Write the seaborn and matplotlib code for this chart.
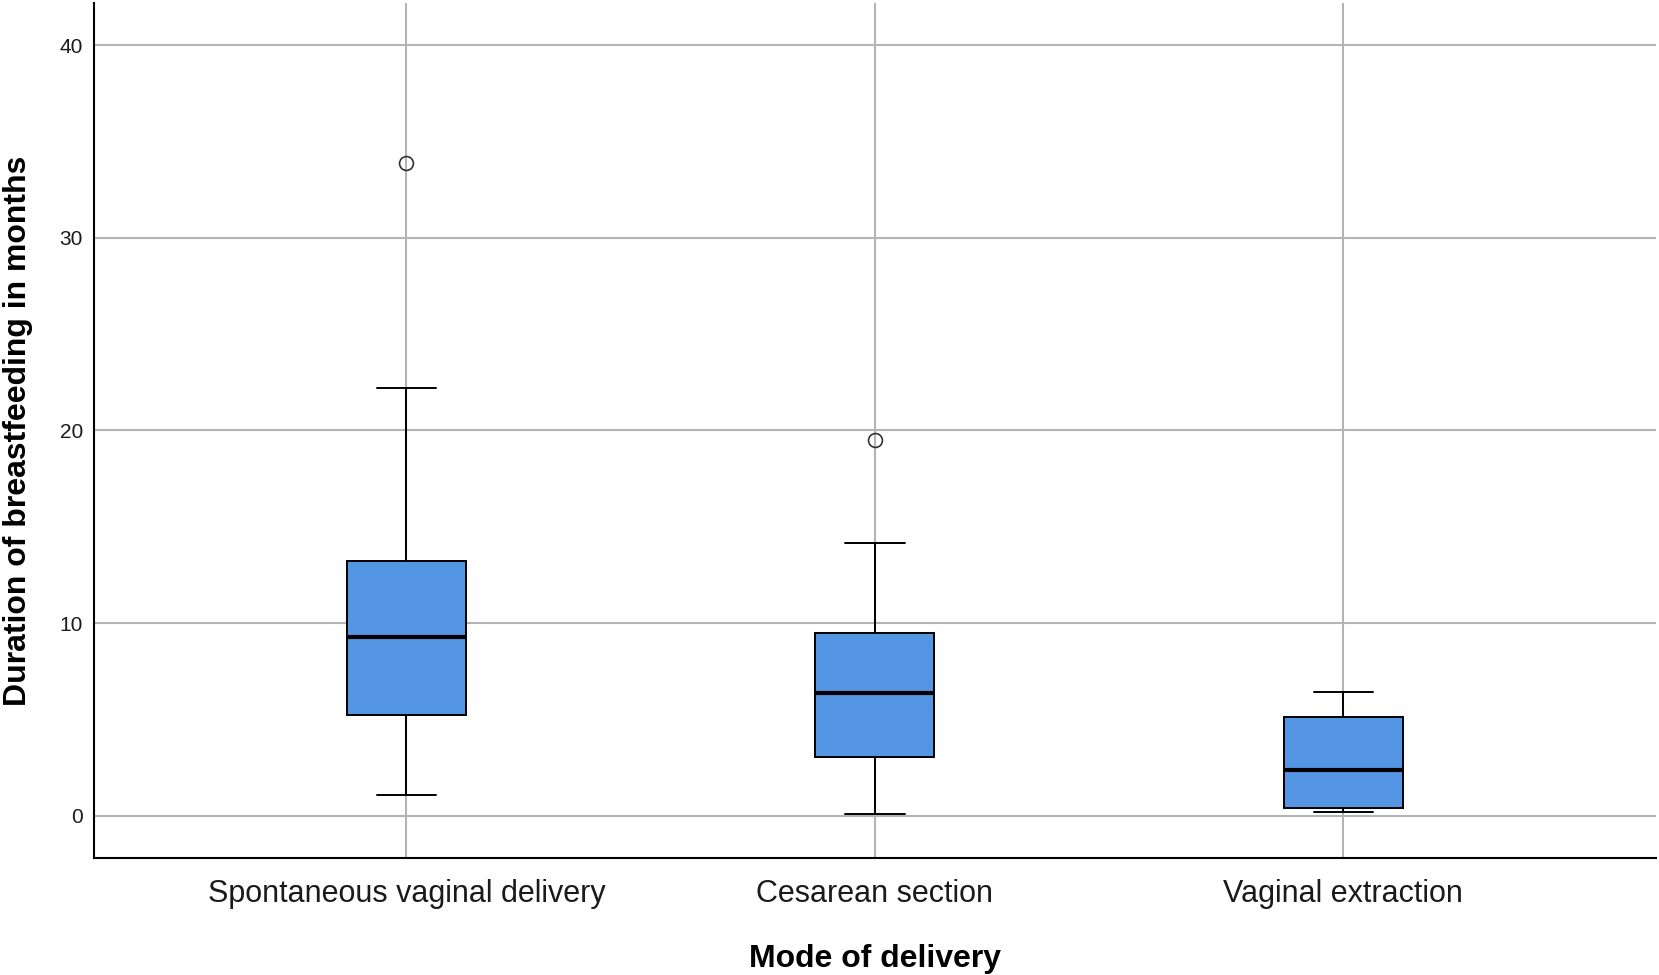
import pandas as pd
import matplotlib.pyplot as plt
import seaborn as sns

# Five-number summaries (months), plus outliers
modes = ['Spontaneous vaginal delivery', 'Cesarean section', 'Vaginal extraction']
whisker_low = [1.05, 0.1, 0.2]
q1 = [5.2, 3.05, 0.4]
median = [9.25, 6.35, 2.35]
q3 = [13.2, 9.5, 5.1]
whisker_high = [22.2, 14.15, 6.4]
outliers = [[33.9], [19.5], []]

y_ticks = [0, 10, 20, 30, 40]

BOX_COLOR = '#5596E4'
GRID_COLOR = '#b4b4b4'


def build_samples():
    # repeat the quartile values so numpy's percentiles land exactly on them
    rows = []
    for i, mode in enumerate(modes):
        if outliers[i]:
            vals = [whisker_low[i], q1[i], q1[i], median[i], median[i],
                    q3[i], q3[i], whisker_high[i]] + outliers[i]
        else:
            vals = [whisker_low[i], q1[i], median[i], q3[i], whisker_high[i]]
        for v in vals:
            rows.append({'mode': mode, 'months': v})
    return pd.DataFrame(rows)


def main():
    df = build_samples()

    sns.set_style('white')
    plt.rcParams['font.family'] = ['Liberation Sans', 'DejaVu Sans']

    fig = plt.figure(figsize=(16.59, 9.75), dpi=100)
    ax = fig.add_axes([0.0567, 0.12, 0.9413, 0.877])

    sns.boxplot(data=df, x='mode', y='months', order=modes, ax=ax,
                color=BOX_COLOR, saturation=1, width=0.254,
                linecolor='black', linewidth=1.4,
                medianprops={'linewidth': 3, 'color': 'black'},
                flierprops={'marker': 'o', 'markersize': 10,
                            'markerfacecolor': 'none',
                            'markeredgecolor': '#333333',
                            'markeredgewidth': 1.2})

    ax.set_xlim(-0.667, 2.667)
    ax.set_ylim(-2.2, 42.2)
    ax.set_yticks(y_ticks)
    ax.grid(True, color=GRID_COLOR, linewidth=1.5)
    ax.set_axisbelow(True)

    for side in ['top', 'right']:
        ax.spines[side].set_visible(False)
    for side in ['left', 'bottom']:
        ax.spines[side].set_color('black')
        ax.spines[side].set_linewidth(1.5)

    ax.tick_params(axis='x', length=0, pad=15, labelsize=22, labelcolor='#1a1a1a')
    ax.tick_params(axis='y', length=0, pad=8, labelsize=15, labelcolor='#1a1a1a')

    ax.set_xlabel('Mode of delivery', fontsize=23, fontweight='bold',
                  labelpad=25, color='black')
    ax.set_ylabel('Duration of breastfeeding in months', fontsize=23,
                  fontweight='bold', labelpad=19, color='black')

    fig.savefig('out.png', dpi=100)


if __name__ == "__main__":
    main()
